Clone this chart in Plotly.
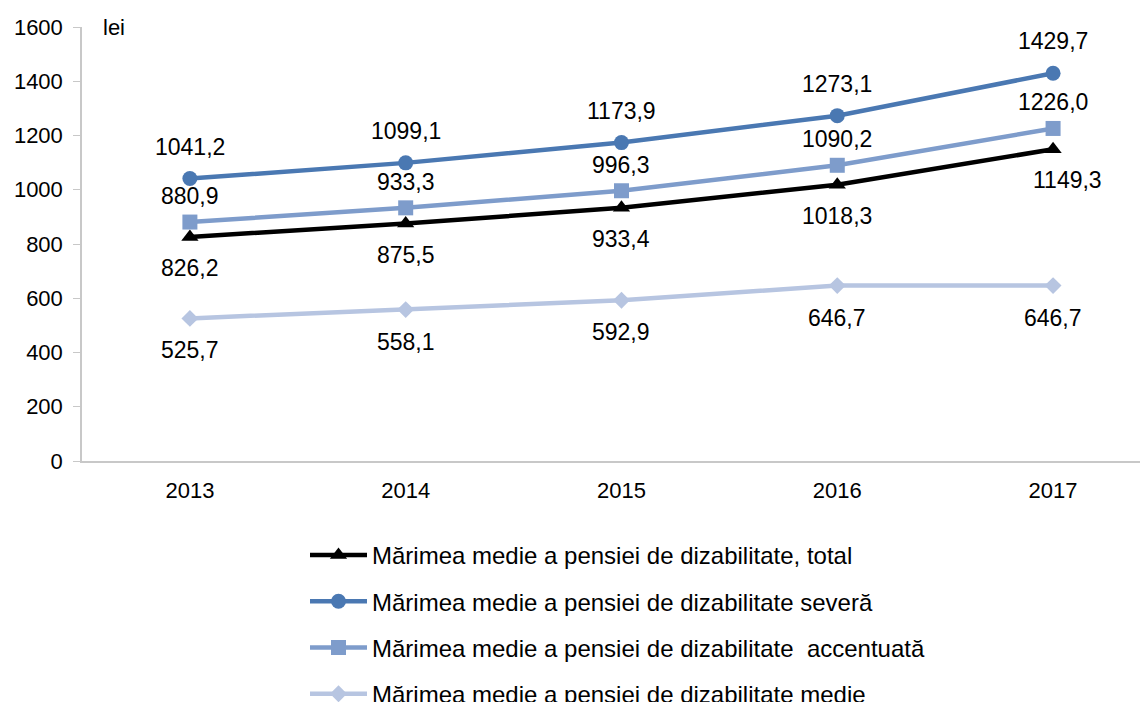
import plotly.graph_objects as go

years = [2013, 2014, 2015, 2016, 2017]
names = [
    "Mărimea medie a pensiei de dizabilitate, total",
    "Mărimea medie a pensiei de dizabilitate severă",
    "Mărimea medie a pensiei de dizabilitate  accentuată",
    "Mărimea medie a pensiei de dizabilitate medie",
]
total = [826.2, 875.5, 933.4, 1018.3, 1149.3]
severa = [1041.2, 1099.1, 1173.9, 1273.1, 1429.7]
accentuata = [880.9, 933.3, 996.3, 1090.2, 1226.0]
medie = [525.7, 558.1, 592.9, 646.7, 646.7]
y_ticks = [0, 200, 400, 600, 800, 1000, 1200, 1400, 1600]

series = [total, severa, accentuata, medie]
colors = ["#000000", "#4A78B2", "#7E9CCB", "#B7C5E1"]
symbols = ["triangle-up", "circle", "square", "diamond"]
msizes = [15, 15, 15, 13]
label_shift = [-31, 32, 26, -32]

FONT = "Liberation Sans, Arial, sans-serif"

fig = go.Figure()
for i, (vals, name) in enumerate(zip(series, names)):
    fig.add_trace(go.Scatter(
        x=years, y=vals, name=name, mode="lines+markers",
        line=dict(color=colors[i], width=4.5),
        marker=dict(symbol=symbols[i], size=msizes[i], color=colors[i]),
        legendgroup=str(i),
    ))

for i, vals in enumerate(series):
    for j, (x, v) in enumerate(zip(years, vals)):
        xs = 0
        if i == 0 and j == len(years) - 1:
            xs = 14
        fig.add_annotation(
            x=x, y=v, text=f"{v:.1f}".replace(".", ","), showarrow=False,
            yshift=label_shift[i], xshift=xs,
            font=dict(family=FONT, size=23, color="#000000"),
        )

fig.add_annotation(
    x=0.018, xref="paper", y=1600, yref="y", text="lei", showarrow=False,
    xanchor="left", yanchor="middle",
    font=dict(family=FONT, size=22, color="#000000"),
)

fig.update_layout(
    width=1148, height=702,
    margin=dict(l=74, r=0, t=19, b=249, autoexpand=False),
    paper_bgcolor="white", plot_bgcolor="white",
    font=dict(family=FONT, size=22, color="#000000"),
    showlegend=True,
    legend=dict(
        xref="container", yref="container",
        x=297 / 1148, y=1 - 525 / 702, xanchor="left", yanchor="top",
        orientation="v", traceorder="grouped", tracegroupgap=12,
        itemwidth=57, font=dict(family=FONT, size=24, color="#000000"),
        bgcolor="rgba(0,0,0,0)", maxheight=1000,
    ),
    xaxis=dict(
        range=[2012.5, 2017.477], tickvals=years, ticktext=[str(y) for y in years],
        showline=True, linecolor="#C8C8C8", linewidth=1.5, showgrid=False,
        zeroline=False, ticks="", ticklabelstandoff=9,
        tickfont=dict(family=FONT, size=22),
    ),
    yaxis=dict(
        range=[0, 1600], tickvals=y_ticks, showline=True, linecolor="#C8C8C8",
        linewidth=1.5, showgrid=False, zeroline=False, ticks="outside",
        ticklen=7, tickcolor="#C8C8C8", ticklabelstandoff=6,
        tickfont=dict(family=FONT, size=22),
    ),
)

fig.write_html("out.html")
